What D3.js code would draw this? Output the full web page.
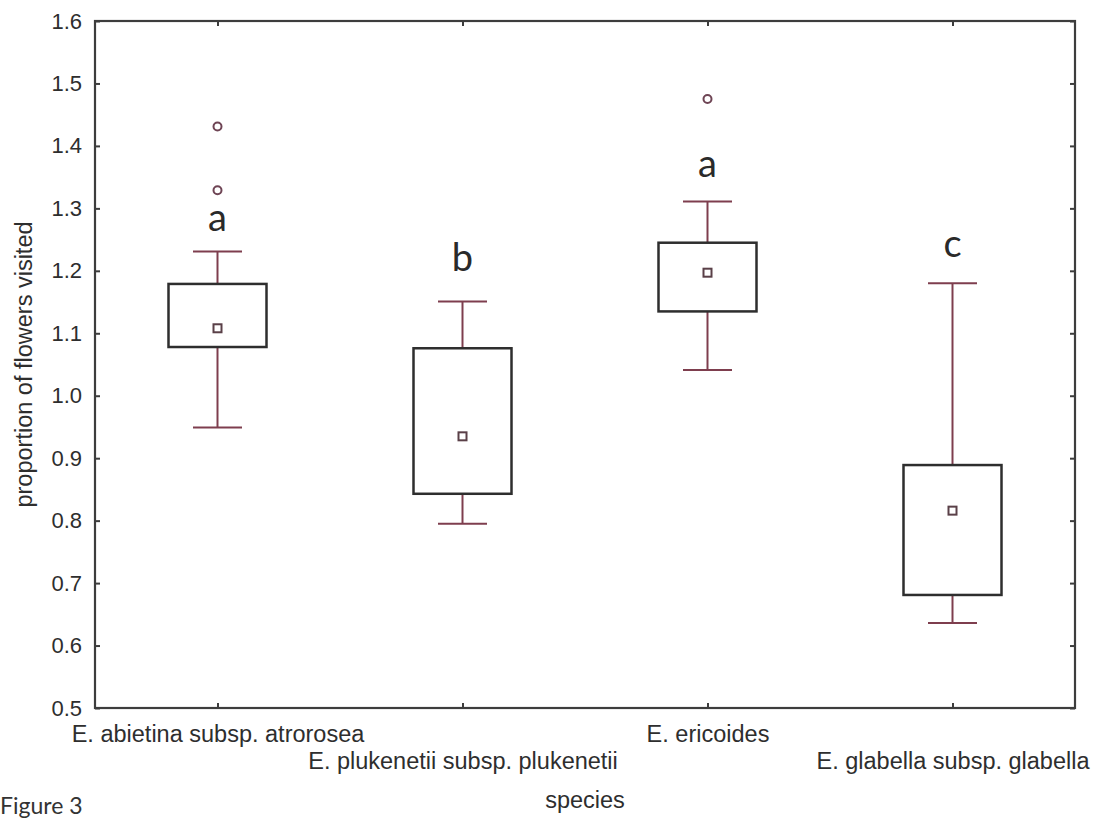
<!DOCTYPE html>
<html>
<head>
<meta charset="utf-8">
<script src="https://cdn.jsdelivr.net/npm/d3@7"></script>
<style>
  body { margin: 0; background: #fff; }
  svg { display: block; }
  .tick text { font-family: "Liberation Sans", Arial, sans-serif; font-size: 22px; fill: #2e2e2e; }
  text.label, .tick text.label { font-family: "Liberation Sans", Arial, sans-serif; font-size: 23.5px; fill: #2e2e2e; }
  .letter { font-family: Lato, "Open Sans", sans-serif; font-size: 38px; fill: #2a2a2a; }
</style>
</head>
<body>
<div id="chart"></div>
<script>
let species = ["E. abietina subsp. atrorosea", "E. plukenetii subsp. plukenetii", "E. ericoides", "E. glabella subsp. glabella"];
let medians = [1.108, 0.935, 1.197, 0.816];
let boxLow = [1.078, 0.843, 1.135, 0.681];
let boxHigh = [1.179, 1.076, 1.245, 0.889];
let whiskerLow = [0.949, 0.795, 1.041, 0.636];
let whiskerHigh = [1.231, 1.151, 1.311, 1.180];
let outliers = [[1.431, 1.329], [], [1.475], []];
let letters = ["a", "b", "a", "c"];
let letterAt = [1.263, 1.199, 1.351, 1.222];
let yTicks = [0.5, 0.6, 0.7, 0.8, 0.9, 1.0, 1.1, 1.2, 1.3, 1.4, 1.5, 1.6];

let W = 1099, H = 819;
let margin = {top: 21, right: 24, bottom: 111, left: 95};
let width = W - margin.left - margin.right,
height = H - margin.top - margin.bottom;

let whiskerColor = "#7e3e4e",
frameColor = "#3d3d3d";

let svg = d3.select("#chart")
.append("svg")
.attr("width", W)
.attr("height", H);

let g = svg.append("g")
.attr("transform", `translate(${margin.left},${margin.top})`);

let x = d3.scalePoint()
.domain(species)
.range([0, width])
.padding(0.5);

let y = d3.scaleLinear()
.domain([0.5, 1.6])
.range([height, 0]);

let boxW = x.step() * 0.4,
capW = x.step() * 0.2;

// axes, ticks point inward on all four sides
g.append("g")
.call(d3.axisLeft(y).tickValues(yTicks).tickFormat(d3.format(".1f")).tickSizeInner(-5).tickSizeOuter(0).tickPadding(13));

let bottom = g.append("g")
.attr("transform", `translate(0,${height})`)
.call(d3.axisBottom(x).tickSizeInner(-5).tickSizeOuter(0).tickPadding(0));

bottom.selectAll(".tick text")
.attr("class", "label")
.attr("dy", null)
.attr("y", (d, i) => i % 2 == 0 ? 34 : 61);

g.append("g")
.call(d3.axisTop(x).tickSizeInner(-5).tickSizeOuter(0).tickFormat(""));

g.append("g")
.attr("transform", `translate(${width},0)`)
.call(d3.axisRight(y).tickValues(yTicks).tickSizeInner(-5).tickSizeOuter(0).tickFormat(""));

g.selectAll(".domain").remove();
g.selectAll(".tick line")
.attr("stroke", frameColor)
.attr("stroke-width", 2);

g.append("rect")
.attr("width", width)
.attr("height", height)
.attr("fill", "none")
.attr("stroke", frameColor)
.attr("stroke-width", 2.2);

// boxes
let boxes = g.selectAll(".box")
.data(species)
.enter()
.append("g")
.attr("class", "box")
.attr("transform", d => `translate(${x(d)},0)`);

boxes.append("line")
.attr("y1", (d, i) => y(whiskerHigh[i]))
.attr("y2", (d, i) => y(boxHigh[i]))
.attr("stroke", whiskerColor)
.attr("stroke-width", 2);

boxes.append("line")
.attr("y1", (d, i) => y(boxLow[i]))
.attr("y2", (d, i) => y(whiskerLow[i]))
.attr("stroke", whiskerColor)
.attr("stroke-width", 2);

boxes.append("line")
.attr("x1", -capW / 2)
.attr("x2", capW / 2)
.attr("y1", (d, i) => y(whiskerHigh[i]))
.attr("y2", (d, i) => y(whiskerHigh[i]))
.attr("stroke", whiskerColor)
.attr("stroke-width", 2);

boxes.append("line")
.attr("x1", -capW / 2)
.attr("x2", capW / 2)
.attr("y1", (d, i) => y(whiskerLow[i]))
.attr("y2", (d, i) => y(whiskerLow[i]))
.attr("stroke", whiskerColor)
.attr("stroke-width", 2);

boxes.append("rect")
.attr("x", -boxW / 2)
.attr("width", boxW)
.attr("y", (d, i) => y(boxHigh[i]))
.attr("height", (d, i) => y(boxLow[i]) - y(boxHigh[i]))
.attr("fill", "none")
.attr("stroke", "#2e2e2e")
.attr("stroke-width", 2.5);

boxes.append("rect")
.attr("x", -4)
.attr("width", 8)
.attr("y", (d, i) => y(medians[i]) - 4)
.attr("height", 8)
.attr("fill", "#fff")
.attr("stroke", "#5a4048")
.attr("stroke-width", 2);

boxes.selectAll(".outlier")
.data((d, i) => outliers[i])
.enter()
.append("circle")
.attr("class", "outlier")
.attr("cy", d => y(d))
.attr("r", 4)
.attr("fill", "#fff")
.attr("stroke", "#6e4454")
.attr("stroke-width", 2);

boxes.append("text")
.attr("class", "letter")
.attr("text-anchor", "middle")
.attr("y", (d, i) => y(letterAt[i]))
.text((d, i) => letters[i]);

// axis titles
g.append("text")
.attr("class", "label")
.attr("transform", `translate(${-63},${height / 2}) rotate(-90)`)
.attr("text-anchor", "middle")
.text("proportion of flowers visited");

g.append("text")
.attr("class", "label")
.attr("x", width / 2)
.attr("y", height + 100)
.attr("text-anchor", "middle")
.text("species");

svg.append("text")
.attr("x", 0)
.attr("y", H - 5)
.style("font-family", "Lato, 'Open Sans', sans-serif")
.style("font-size", "23px")
.attr("fill", "#333")
.text("Figure 3");
</script>
</body>
</html>
